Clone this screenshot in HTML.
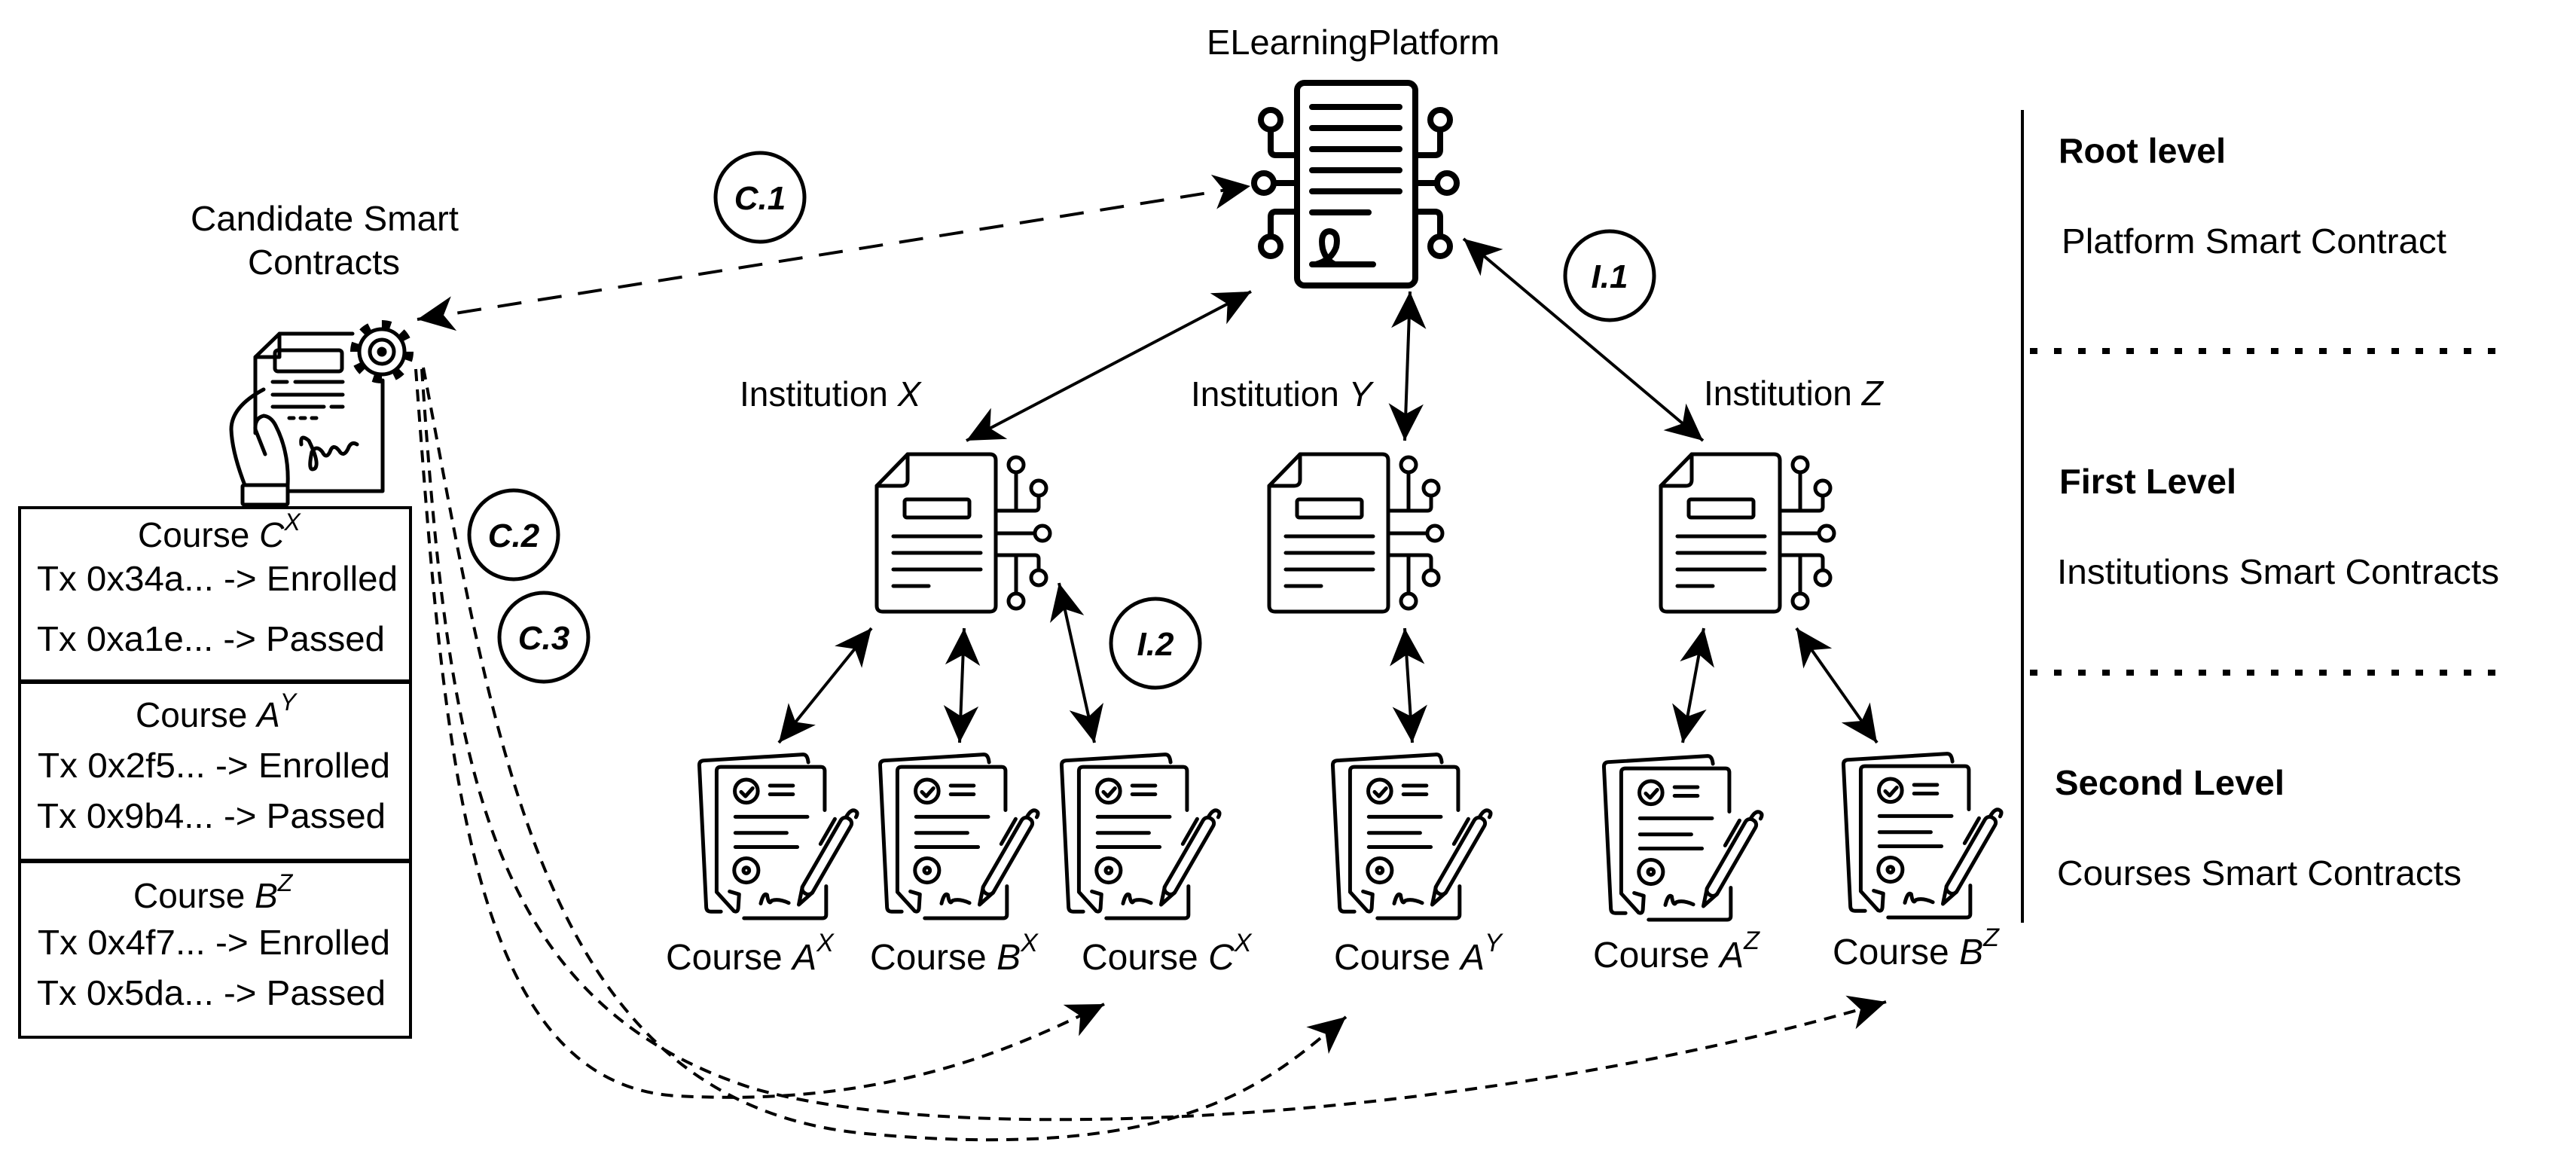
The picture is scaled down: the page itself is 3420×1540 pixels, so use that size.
<!DOCTYPE html>
<html><head><meta charset="utf-8"><style>
html,body{margin:0;padding:0;background:#fff}
svg{display:block}
text{font-family:"Liberation Sans",Arial,sans-serif;fill:#000}
</style></head><body>
<svg width="3420" height="1540" viewBox="0 0 3420 1540" xmlns="http://www.w3.org/2000/svg">
<defs>
<marker id="ah" markerUnits="userSpaceOnUse" markerWidth="60" markerHeight="60" viewBox="-40 -20 44 40" refX="0" refY="0" orient="auto-start-reverse">
<path d="M0,0 L-36,-17 L-26,0 L-36,17 Z" fill="#000" stroke="none"/>
</marker>
<g id="course" fill="none" stroke="#000" stroke-width="13" stroke-linecap="round" stroke-linejoin="round">
<path d="M280,680 L245,680 Q230,680 229,665 L205,172 Q205,157 220,156 L565,135 Q580,135 583,162"/>
<path d="M640,328 L640,192 Q640,178 626,178 L280,178 Q265,178 265,192 L265,612 L325,678 Q338,684 340,668 L343,620 L310,610"/>
<path d="M360,703 L632,703 Q645,703 645,690 L645,592"/>
<circle cx="368" cy="262" r="40"/>
<path d="M350,265 L365,280 L390,252"/>
<path d="M450,243 L530,243 M450,273 L530,273 M330,351 L580,351 M330,407 L508,407 M330,456 L545,456"/>
<circle cx="368" cy="537" r="42"/>
<circle cx="368" cy="537" r="10"/>
<path d="M418,652 Q428,612 440,622 Q446,660 456,642 Q480,634 515,650"/>
<g transform="rotate(30 640 500)">
<rect x="620" y="335" width="40" height="300" rx="18"/>
<path d="M620,620 L640,680 L660,620"/>
<path d="M600,360 L600,460"/>
<path d="M630,335 Q630,300 648,300 Q660,300 660,318"/>
</g>
</g>
<g id="inst" fill="none" stroke="#000" stroke-width="5" stroke-linecap="round" stroke-linejoin="round">
<path d="M1205,603 L1314,603 Q1322,603 1322,611 L1322,804 Q1322,812 1314,812 L1172,812 Q1164,812 1164,804 L1164,645 Z"/>
<path d="M1205,603 L1205,637 Q1205,645 1197,645 L1164,645"/>
<rect x="1201" y="663" width="86" height="24" rx="3"/>
<path d="M1186,712 L1302,712 M1186,734 L1302,734 M1186,756 L1302,756 M1186,778 L1233,778"/>
<path d="M1322,678 L1374,678 Q1379,678 1379,673 L1379,658"/>
<circle cx="1379" cy="648" r="10" fill="#fff"/>
<path d="M1349,678 L1349,627"/>
<circle cx="1349" cy="617" r="10" fill="#fff"/>
<path d="M1322,708 L1374,708"/>
<circle cx="1384" cy="708" r="10" fill="#fff"/>
<path d="M1322,737 L1374,737 Q1379,737 1379,742 L1379,757"/>
<circle cx="1379" cy="767" r="10" fill="#fff"/>
<path d="M1349,737 L1349,788"/>
<circle cx="1349" cy="798" r="10" fill="#fff"/>
</g>
</defs>

<!-- Platform -->
<text x="1602" y="72" font-size="46" textLength="389" lengthAdjust="spacingAndGlyphs">ELearningPlatform</text>
<g fill="none" stroke="#000" stroke-width="8" stroke-linecap="round" stroke-linejoin="round">
<rect x="1722" y="110" width="157" height="269" rx="10"/>
<path d="M1742,142 L1858,142 M1742,170 L1858,170 M1742,198 L1858,198 M1742,226 L1858,226 M1742,254 L1858,254 M1742,282 L1817,282"/>
<path d="M1742,351 L1823,351 M1747,351 Q1768,345 1774,328 Q1778,308 1765,307 Q1752,308 1756,330 Q1760,345 1772,351"/>
<path d="M1718,206 L1694,206 Q1687,206 1687,199 L1687,172"/>
<circle cx="1687" cy="159" r="13"/>
<path d="M1718,243 L1691,243"/>
<circle cx="1678" cy="243" r="13"/>
<path d="M1718,281 L1694,281 Q1687,281 1687,288 L1687,314"/>
<circle cx="1687" cy="327" r="13"/>
<path d="M1883,206 L1905,206 Q1912,206 1912,199 L1912,172"/>
<circle cx="1912" cy="159" r="13"/>
<path d="M1883,243 L1908,243"/>
<circle cx="1921" cy="243" r="13"/>
<path d="M1883,281 L1905,281 Q1912,281 1912,288 L1912,314"/>
<circle cx="1912" cy="327" r="13"/>
</g>

<!-- Institutions -->
<use href="#inst"/>
<use href="#inst" transform="translate(521,0)"/>
<use href="#inst" transform="translate(1041,0)"/>
<text x="982" y="539" font-size="46">Institution <tspan font-style="italic">X</tspan></text>
<text x="1581" y="539" font-size="46">Institution <tspan font-style="italic">Y</tspan></text>
<text x="2262" y="538" font-size="46">Institution <tspan font-style="italic">Z</tspan></text>

<!-- Courses -->
<use href="#course" transform="translate(850,950) scale(0.3827)"/>
<use href="#course" transform="translate(1090,950) scale(0.3827)"/>
<use href="#course" transform="translate(1331,950) scale(0.3827)"/>
<use href="#course" transform="translate(1691,950) scale(0.3827)"/>
<use href="#course" transform="translate(2051,952) scale(0.3827)"/>
<use href="#course" transform="translate(2369,949) scale(0.3827)"/>
<g font-size="48">
<text x="884" y="1287">Course <tspan font-style="italic">A</tspan><tspan font-size="34" dy="-24" font-style="italic">X</tspan></text>
<text x="1155" y="1287">Course <tspan font-style="italic">B</tspan><tspan font-size="34" dy="-24" font-style="italic">X</tspan></text>
<text x="1436" y="1287">Course <tspan font-style="italic">C</tspan><tspan font-size="34" dy="-24" font-style="italic">X</tspan></text>
<text x="1771" y="1287">Course <tspan font-style="italic">A</tspan><tspan font-size="34" dy="-24" font-style="italic">Y</tspan></text>
<text x="2115" y="1284">Course <tspan font-style="italic">A</tspan><tspan font-size="34" dy="-24" font-style="italic">Z</tspan></text>
<text x="2433" y="1280">Course <tspan font-style="italic">B</tspan><tspan font-size="34" dy="-24" font-style="italic">Z</tspan></text>
</g>

<!-- Solid arrows -->
<g stroke="#000" stroke-width="4" fill="none" marker-start="url(#ah)" marker-end="url(#ah)">
<path d="M1661,387 L1283,585"/>
<path d="M1872,387 L1865,585"/>
<path d="M1943,317 L2261,585"/>
<path d="M1157,834 L1034,986"/>
<path d="M1280,834 L1274,986"/>
<path d="M1406,774 L1453,986"/>
<path d="M1865,834 L1875,986"/>
<path d="M2262,834 L2234,986"/>
<path d="M2385,834 L2492,986"/>
</g>

<!-- Dashed arrows -->
<path d="M554,424 L1660,247" stroke="#000" stroke-width="4" fill="none" stroke-dasharray="32 22" marker-start="url(#ah)" marker-end="url(#ah)"/>
<g stroke="#000" stroke-width="4" fill="none" stroke-dasharray="16 11" marker-end="url(#ah)">
<path d="M552,490 C590,1000 620,1440 900,1455 S1350,1390 1466,1333"/>
<path d="M560,490 C595,1000 640,1330 1000,1445 C1300,1530 2000,1480 2504,1330"/>
<path d="M562,488 C660,1000 720,1465 1150,1505 S1690,1430 1787,1350"/>
</g>

<!-- Step circles -->
<g fill="#fff" stroke="#000" stroke-width="5">
<circle cx="1009" cy="262" r="59"/>
<circle cx="682" cy="710" r="59"/>
<circle cx="722" cy="846" r="59"/>
<circle cx="2137" cy="366" r="59"/>
<circle cx="1534" cy="854" r="59"/>
</g>
<g font-size="44" font-weight="bold" font-style="italic" text-anchor="middle">
<text x="1009" y="278">C.1</text>
<text x="682" y="726">C.2</text>
<text x="722" y="862">C.3</text>
<text x="2137" y="382">I.1</text>
<text x="1534" y="870">I.2</text>
</g>

<!-- Candidate -->
<text x="253" y="306" font-size="46" textLength="356" lengthAdjust="spacingAndGlyphs">Candidate Smart</text>
<text x="329" y="364" font-size="46" textLength="202" lengthAdjust="spacingAndGlyphs">Contracts</text>
<g fill="none" stroke="#000" stroke-width="5" stroke-linecap="round" stroke-linejoin="round">
<path d="M468,443 L371,443 L339,474 L339,575"/>
<path d="M371,443 L371,474 L339,474"/>
<path d="M508,505 L508,652 L382,652"/>
<rect x="365" y="465" width="89" height="28" rx="4"/>
<path d="M362,507 L381,507 M392,507 L455,507 M362,524 L455,524 M362,540 L430,540 M440,540 L455,540"/>
<path d="M384,555 L390,555 M399,555 L405,555 M414,555 L420,555"/>
<path d="M400,590 Q398,575 410,585 Q425,615 418,622 Q408,628 414,600 Q420,590 428,600 Q433,610 438,600 Q442,588 450,598 Q456,608 462,596 Q466,585 474,590"/>
<path d="M350,517 Q307,540 307,570 Q308,600 325,644"/>
<path d="M352,603 L339,570 Q338,555 350,552 Q360,553 366,565 Q384,600 382,644"/>
<rect x="322" y="644" width="60" height="26" rx="2"/>
<circle cx="507" cy="467" r="37" stroke-width="10" stroke-dasharray="12 17" stroke-linecap="butt"/>
<circle cx="507" cy="467" r="30" fill="#fff"/>
<circle cx="507" cy="467" r="16"/>
<circle cx="507" cy="467" r="4" fill="#000"/>
</g>

<!-- Table -->
<rect x="26" y="674" width="519" height="703" fill="none" stroke="#000" stroke-width="4"/>
<path d="M26,905 L545,905 M26,1143 L545,1143" stroke="#000" stroke-width="6"/>
<g font-size="46">
<text x="183" y="726">Course <tspan font-style="italic">C</tspan><tspan font-size="32" dy="-22" font-style="italic">X</tspan></text>
<text x="49" y="784" textLength="479" lengthAdjust="spacingAndGlyphs">Tx 0x34a... -&gt; Enrolled</text>
<text x="49" y="864" textLength="462" lengthAdjust="spacingAndGlyphs">Tx 0xa1e... -&gt; Passed</text>
<text x="180" y="965">Course <tspan font-style="italic">A</tspan><tspan font-size="32" dy="-22" font-style="italic">Y</tspan></text>
<text x="50" y="1032" textLength="468" lengthAdjust="spacingAndGlyphs">Tx 0x2f5... -&gt; Enrolled</text>
<text x="49" y="1099" textLength="463" lengthAdjust="spacingAndGlyphs">Tx 0x9b4... -&gt; Passed</text>
<text x="177" y="1205">Course <tspan font-style="italic">B</tspan><tspan font-size="32" dy="-22" font-style="italic">Z</tspan></text>
<text x="50" y="1267" textLength="468" lengthAdjust="spacingAndGlyphs">Tx 0x4f7... -&gt; Enrolled</text>
<text x="49" y="1334" textLength="463" lengthAdjust="spacingAndGlyphs">Tx 0x5da... -&gt; Passed</text>
</g>

<!-- Right legend -->
<path d="M2685,146 L2685,1225" stroke="#000" stroke-width="4"/>
<path d="M2695,466 L3315,466 M2695,893 L3315,893" stroke="#000" stroke-width="8" stroke-dasharray="10 22"/>
<text x="2733" y="216" font-size="46" font-weight="bold" textLength="222" lengthAdjust="spacingAndGlyphs">Root level</text>
<text x="2737" y="336" font-size="46" textLength="511" lengthAdjust="spacingAndGlyphs">Platform Smart Contract</text>
<text x="2734" y="655" font-size="46" font-weight="bold" textLength="235" lengthAdjust="spacingAndGlyphs">First Level</text>
<text x="2731" y="775" font-size="46" textLength="587" lengthAdjust="spacingAndGlyphs">Institutions Smart Contracts</text>
<text x="2728" y="1055" font-size="46" font-weight="bold" textLength="305" lengthAdjust="spacingAndGlyphs">Second Level</text>
<text x="2731" y="1175" font-size="46" textLength="537" lengthAdjust="spacingAndGlyphs">Courses Smart Contracts</text>
</svg>
</body></html>
